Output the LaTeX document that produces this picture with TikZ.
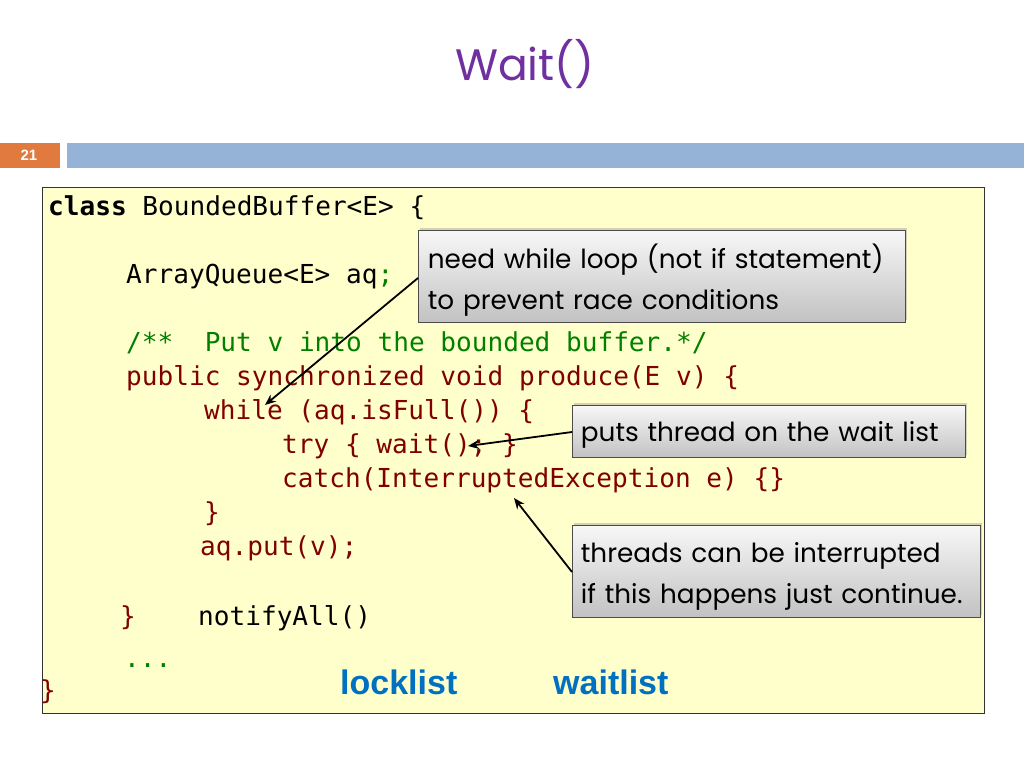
\documentclass[tikz,border=0pt]{standalone}
\usepackage{fontspec}
\setmainfont{Poppins}
\setmonofont{DejaVu Sans Mono}
\newfontfamily\arialfont{Liberation Sans}
\usetikzlibrary{shadows,arrows.meta}
\definecolor{titlepurple}{RGB}{112,48,160}
\definecolor{numorange}{RGB}{224,122,63}
\definecolor{barblue}{RGB}{149,179,215}
\definecolor{codebg}{RGB}{255,255,204}
\definecolor{kwred}{RGB}{128,0,0}
\definecolor{cmtgreen}{RGB}{0,128,0}
\definecolor{listblue}{RGB}{0,112,192}
\newcommand{\coline}[2]{\hspace*{6pt}\raisebox{#1}[0pt][0pt]{#2}}
\tikzset{
  code/.style={anchor=mid west,inner sep=0pt,font=\ttfamily\fontsize{26.1}{30}\selectfont},
  callout/.style={draw=black!70,line width=0.8pt,top color=gray!6,bottom color=gray!48,
    drop shadow={shadow xshift=2pt,shadow yshift=2pt,opacity=0.35},
    align=left,inner sep=0pt,text=black,font=\fontsize{26.3}{41}\selectfont},
  ptr/.style={line width=1.8pt,-{Stealth[length=11pt,width=9pt]}},
  lst/.style={anchor=mid west,inner sep=0pt,text=listblue,font=\arialfont\bfseries\fontsize{34}{38}\selectfont}
}
\begin{document}
\begin{tikzpicture}[x=1pt,y=-1pt]
\useasboundingbox (0,0) rectangle (1024,768);
\fill[white] (0,0) rectangle (1024,768);
% title
\node[text=titlepurple,font=\fontsize{44}{50}\selectfont,inner sep=0pt] (title) at (525,64) {Wait()};
% header bar
\fill[numorange] (0,143) rectangle (60,168);
\fill[barblue] (67,143) rectangle (1024,168);
\node[text=white,font=\arialfont\bfseries\fontsize{15}{17}\selectfont] (num) at (29,155.5) {21};
% code box
\draw[fill=codebg,draw=black!80,line width=0.9pt] (42,187) rectangle (984,713);
\node[code] (l1) at (48,213) {\textbf{class} BoundedBuffer<E> \{};
\node[code] (l2) at (126,281) {ArrayQueue<E> aq\textcolor{cmtgreen}{;}};
\node[code,text=cmtgreen] (l3) at (126,349) {/**\ \ Put v into the bounded buffer.*/};
\node[code,text=kwred] (l4) at (126,383) {public synchronized void produce(E v) \{};
\node[code,text=kwred] (l5) at (204,417) {while (aq.isFull()) \{};
\node[code,text=kwred] (l6) at (282,451) {try \{ wait(); \}};
\node[code,text=kwred] (l7) at (282,485) {catch(InterruptedException e) \{\}};
\node[code,text=kwred] (l8) at (204,519) {\}};
\node[code,text=kwred] (l9) at (200,553) {aq.put(v);};
\node[code,text=kwred] (l10) at (120,623) {\}};
\node[code] (l11) at (198,623) {notifyAll()};
\node[code,text=cmtgreen] (l12) at (124,665) {...};
\node[code,text=kwred] (l13) at (40,697) {\}};
\node[lst] (lock) at (340,692) {locklist};
\node[lst] (wait) at (553,692) {waitlist};
% callouts
\node[callout,minimum width=487pt,minimum height=92pt,anchor=north west,text width=480pt] (c1) at (418,230)
  {\coline{-13pt}{need while loop (not if statement)}\\\coline{-13pt}{to prevent race conditions}};
\node[callout,minimum width=393pt,minimum height=52pt,anchor=north west,text width=388pt] (c2) at (572,405)
  {\coline{-10pt}{puts thread on the wait list}};
\node[callout,minimum width=408pt,minimum height=92pt,anchor=north west,text width=403pt] (c3) at (572,525)
  {\coline{-12pt}{threads can be interrupted}\\\coline{-12pt}{if this happens just continue.}};
% pointers
\coordinate (t1) at (265,405);
\coordinate (t2) at (468,446);
\coordinate (t3) at (514,498);
\draw[ptr] (c1.west |- 0,278) -- (t1);
\draw[ptr] (c2.west |- 0,432) -- (t2);
\draw[ptr] (c3.west |- 0,572) -- (t3);
\end{tikzpicture}
\end{document}
